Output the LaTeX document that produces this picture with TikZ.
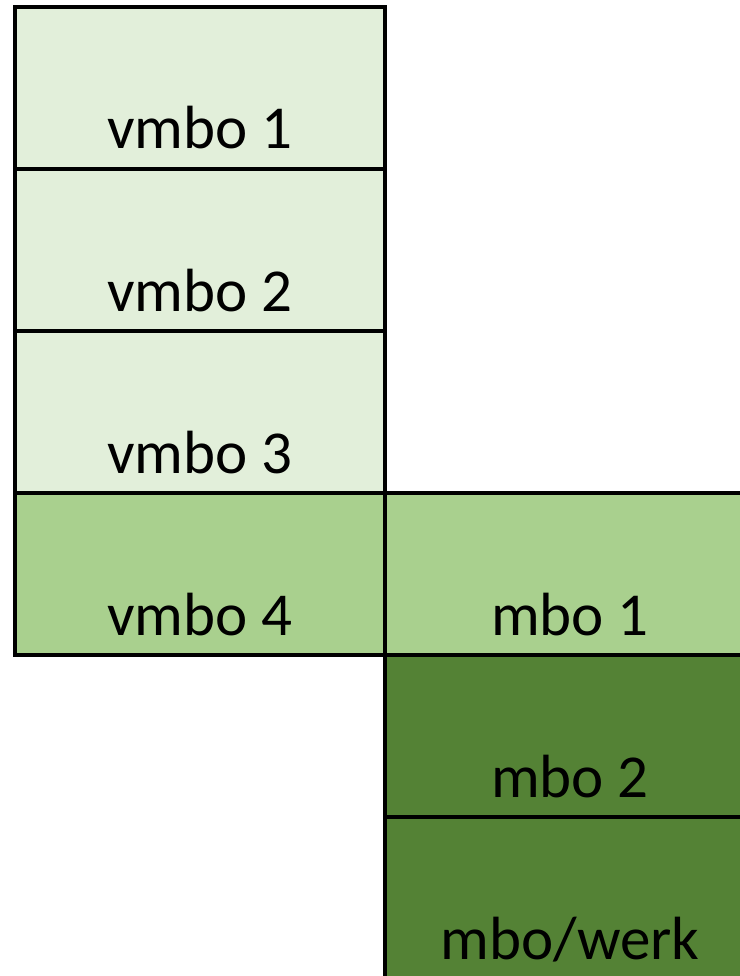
\documentclass[tikz,border=0pt]{standalone}
\usepackage{fontspec}
\setmainfont{Carlito}
\usepackage{xcolor}
\usetikzlibrary{positioning}
\definecolor{vmbolight}{HTML}{E2EFDA}
\definecolor{mbolight}{HTML}{A9D08E}
\definecolor{mbodark}{HTML}{548235}

\begin{document}
\begin{tikzpicture}[x=1pt, y=1pt, node distance=0pt]
	\tikzstyle{cell}=[draw=black,line width=4pt,inner sep=0pt,outer sep=0pt,minimum width=370pt,text height=142pt,text depth=20pt,font=\fontsize{61}{66}\selectfont]
	\useasboundingbox (0,0) rectangle (739,-976);
	\node[cell,fill=vmbolight,anchor=north west] (v1) at (15,-7) {vmbo 1};
	\node[cell,fill=vmbolight]  (v2)[below=of v1]   {vmbo 2};
	\node[cell,fill=vmbolight]  (v3)[below=of v2]   {vmbo 3};
	\node[cell,fill=mbolight]   (v4)[below=of v3]   {vmbo 4};
	\node[cell,fill=mbolight]   (m1)[right=of v4]   {mbo 1};
	\node[cell,fill=mbodark]    (m2)[below=of m1]   {mbo 2};
	\node[cell,fill=mbodark]    (m3)[below=of m2]   {mbo/werk};
\end{tikzpicture}
\end{document}
